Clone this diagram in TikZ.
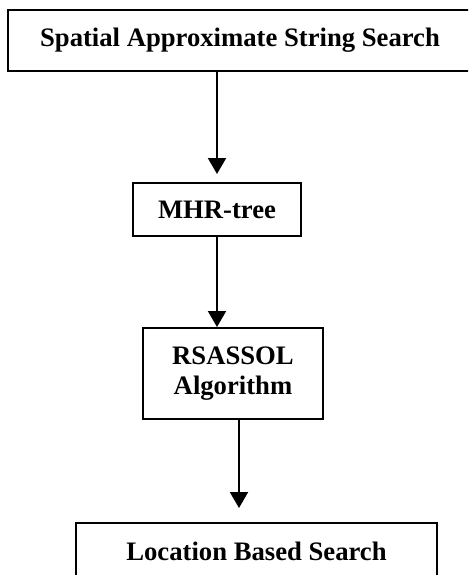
\documentclass[tikz,border=0pt]{standalone}
\usepackage{fontspec}
\setmainfont{Liberation Serif}
\usetikzlibrary{arrows.meta}

\tikzset{
	flowbox/.style={draw,line width=1.5pt,inner sep=0pt,align=center,
		font=\fontsize{20}{23}\selectfont\bfseries},
	flowarrow/.style={-{Triangle[width=13.5pt,length=12pt]},line width=1.5pt}
}

\begin{document}
\begin{tikzpicture}[x=0.75pt,y=-0.75pt]
	%page
	\fill[white] (0,0) rectangle (468,575);
	\clip (0,0) rectangle (468,575);
	
	%boxes
	\node[flowbox,minimum width=348pt,minimum height=45.75pt] (sass) at (240,40.5) {Spatial Approximate String Search};	%top, runs past the right edge
	\node[flowbox,minimum width=126pt,minimum height=39.75pt] (mhr) at (217,209.5) {MHR-tree};
	\node[flowbox,minimum width=135pt,minimum height=68.25pt] (rsa) at (233,373.5) {RSASSOL\\Algorithm};
	\node[flowbox,minimum width=270.75pt,minimum height=42pt] (lbs) at (256.5,551) {Location Based Search};	%bottom, cut by the lower edge
	
	%arrows
	\coordinate (rsaout) at ([xshift=4.5pt]rsa.south);
	\draw[flowarrow,shorten >=6pt] (sass.south -| mhr.north) -- (mhr.north);
	\draw[flowarrow] (mhr.south) -- (mhr.south |- rsa.north);
	\draw[flowarrow,shorten >=10.5pt] (rsaout) -- (rsaout |- lbs.north);
\end{tikzpicture}
\end{document}
